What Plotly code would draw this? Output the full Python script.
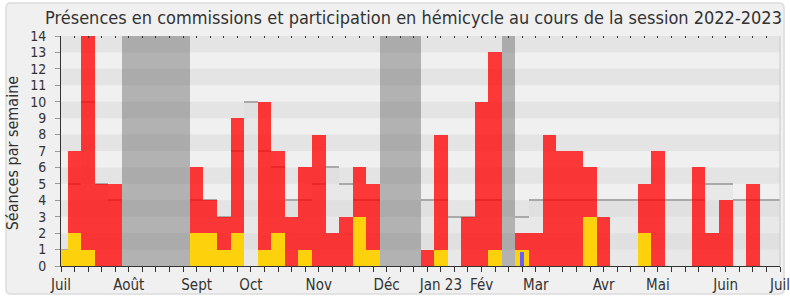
import plotly.graph_objects as go

# ---------------- data ----------------
weeks = list(range(54))
month_ticks = [0, 5, 10, 14, 19, 24, 28, 31, 35, 40, 44, 49, 53]
month_labels = ["Juil", "Août", "Sept", "Oct", "Nov", "Déc", "Jan 23", "Fév",
                "Mar", "Avr", "Mai", "Juin", "Juil"]

# total weekly activity (red)
red_values = [1, 7, 14, 5, 5, 0, 0, 0, 0, 0,
              6, 4, 3, 9, 0, 10, 7, 3, 6, 8,
              2, 3, 6, 5, 0, 0, 0, 1, 8, 0,
              3, 10, 13, 0, 2, 2, 8, 7, 7, 6,
              3, 0, 0, 5, 7, 0, 0, 6, 2, 4,
              0, 5, 0, 0]
# commission presences (yellow)
yellow_values = [1, 2, 1, 0, 0, 0, 0, 0, 0, 0,
                 2, 2, 1, 2, 0, 1, 2, 0, 1, 0,
                 0, 0, 3, 1, 0, 0, 0, 0, 1, 0,
                 0, 0, 1, 0, 1, 0, 0, 0, 0, 3,
                 0, 0, 0, 2, 0, 0, 0, 0, 0, 0,
                 0, 0, 0, 0]
# small blue mark
blue_weeks = [34]
blue_values = [0.85]
# median of all deputies (light overlay)
median_values = [1, 5, 10, 5, 4, 0, 0, 0, 0, 0,
                 4, 4, 3, 7, 10, 7, 6, 4, 4, 5,
                 6, 5, 4, 4, 0, 0, 0, 4, 4, 3,
                 3, 4, 4, 0, 3, 4, 4, 4, 4, 4,
                 4, 4, 4, 4, 4, 4, 4, 4, 5, 5,
                 4, 4, 4, 4]
# parliamentary holidays
vacation_weeks = [5, 6, 7, 8, 9, 24, 25, 26, 33]
y_max = 14

# ---------------- figure ----------------
W, H = 790, 300
ml, mr, mt, mb = 61, 10, 36, 34
pw, ph = W - ml - mr, H - mt - mb
FONT = "DejaVu Sans Condensed, DejaVu Sans"
TXT = "#333333"

fig = go.Figure()

# vacation columns
fig.add_trace(go.Bar(x=vacation_weeks, y=[y_max] * len(vacation_weeks), width=1,
                     marker=dict(color="rgba(70,70,70,0.36)", line=dict(width=0)),
                     hoverinfo="skip"))
# median fill
fig.add_trace(go.Bar(x=weeks, y=median_values, width=1,
                     marker=dict(color="rgba(215,215,215,0.30)", line=dict(width=0)),
                     hoverinfo="skip"))
# median top line (thin bars based at the median value)
med_w = [w for w, m in zip(weeks, median_values) if m > 0]
med_m = [m for m in median_values if m > 0]
fig.add_trace(go.Bar(x=med_w, y=[0.07] * len(med_w), base=[m - 0.035 for m in med_m],
                     width=1, marker=dict(color="#a9a9a9", line=dict(width=0)),
                     hoverinfo="skip"))
# red bars
fig.add_trace(go.Bar(x=weeks, y=red_values, width=1,
                     marker=dict(color="rgba(255,0,0,0.77)", line=dict(width=0)),
                     hoverinfo="skip"))
# yellow bars
fig.add_trace(go.Bar(x=weeks, y=yellow_values, width=1,
                     marker=dict(color="#fdd20c", line=dict(width=0)),
                     hoverinfo="skip"))
# blue bar
fig.add_trace(go.Bar(x=blue_weeks, y=blue_values, width=0.27,
                     marker=dict(color="#6060ff", line=dict(width=0)),
                     hoverinfo="skip"))

shapes = []
# outer rounded frame (paper coordinates)
fx0, fx1 = (6 - ml) / pw, (784 - ml) / pw
fy1, fy0 = (H - mb - 3) / ph, (H - mb - 294) / ph
rx, ry = 5 / pw, 5 / ph
path = (f"M {fx0+rx},{fy1} L {fx1-rx},{fy1} Q {fx1},{fy1} {fx1},{fy1-ry} "
        f"L {fx1},{fy0+ry} Q {fx1},{fy0} {fx1-rx},{fy0} L {fx0+rx},{fy0} "
        f"Q {fx0},{fy0} {fx0},{fy0+ry} L {fx0},{fy1-ry} Q {fx0},{fy1} {fx0+rx},{fy1} Z")
shapes.append(dict(type="path", path=path, xref="paper", yref="paper", layer="below",
                   fillcolor="#f0f0f0", line=dict(color="#dcdcdc", width=1.5)))
# horizontal stripes
for k in range(1, y_max, 2):
    shapes.append(dict(type="rect", xref="paper", yref="y", x0=0, x1=1, y0=k, y1=k + 1,
                       fillcolor="#e4e4e4", line=dict(width=0), layer="below"))
# right border line
shapes.append(dict(type="line", xref="paper", yref="paper", x0=1, x1=1, y0=0, y1=1,
                   line=dict(color="#c8c8c8", width=1), layer="above"))

fig.update_layout(
    width=W, height=H,
    margin=dict(l=ml, r=mr, t=mt, b=mb, pad=0, autoexpand=False),
    paper_bgcolor="white", plot_bgcolor="#fafafa",
    barmode="overlay", bargap=0, showlegend=False,
    font=dict(family=FONT, color=TXT),
    shapes=shapes,
    title=dict(text="Présences en commissions et participation en hémicycle au cours de la session 2022-2023",
               x=413.5 / W, xanchor="center", y=1 - 18 / H, yanchor="middle",
               xref="container", yref="container", automargin=False,
               font=dict(family=FONT, size=18, color=TXT)),
    xaxis=dict(range=[0, 53], tickmode="array", tickvals=month_ticks, ticktext=month_labels,
               ticks="outside", ticklen=5, tickcolor="#333", tickwidth=1,
               ticklabeloverflow="allow", automargin=False,
               minor=dict(dtick=1, tick0=0, ticks="outside", ticklen=5, tickcolor="#333"),
               showgrid=False, zeroline=False, showline=True, linecolor="#333", linewidth=1,
               tickfont=dict(family=FONT, size=15, color=TXT), fixedrange=True),
    xaxis2=dict(range=[0, 53], overlaying="x", side="top", matches="x", anchor="y",
                tickmode="linear", tick0=0, dtick=1, ticks="inside", ticklen=2,
                tickcolor="#333", showticklabels=False, showgrid=False, zeroline=False,
                showline=False, automargin=False),
    yaxis=dict(range=[0, y_max], tickmode="linear", tick0=0, dtick=1,
               ticks="outside", ticklen=5, tickcolor="#999", ticklabelstandoff=6,
               automargin=False,
               showgrid=False, zeroline=False, showline=True, linecolor="#333", linewidth=1,
               tickfont=dict(family=FONT, size=14, color=TXT), fixedrange=True),
    annotations=[dict(text="Séances par semaine", textangle=-90, xref="paper", yref="paper",
                      x=(12 - ml) / pw, y=0.49, xanchor="center", yanchor="middle",
                      showarrow=False, font=dict(family=FONT, size=16, color=TXT))],
)
# dummy trace to activate the top axis
fig.add_trace(go.Scatter(x=[0], y=[0], xaxis="x2", mode="markers",
                         marker=dict(opacity=0), hoverinfo="skip"))

fig.write_html("out.html")
